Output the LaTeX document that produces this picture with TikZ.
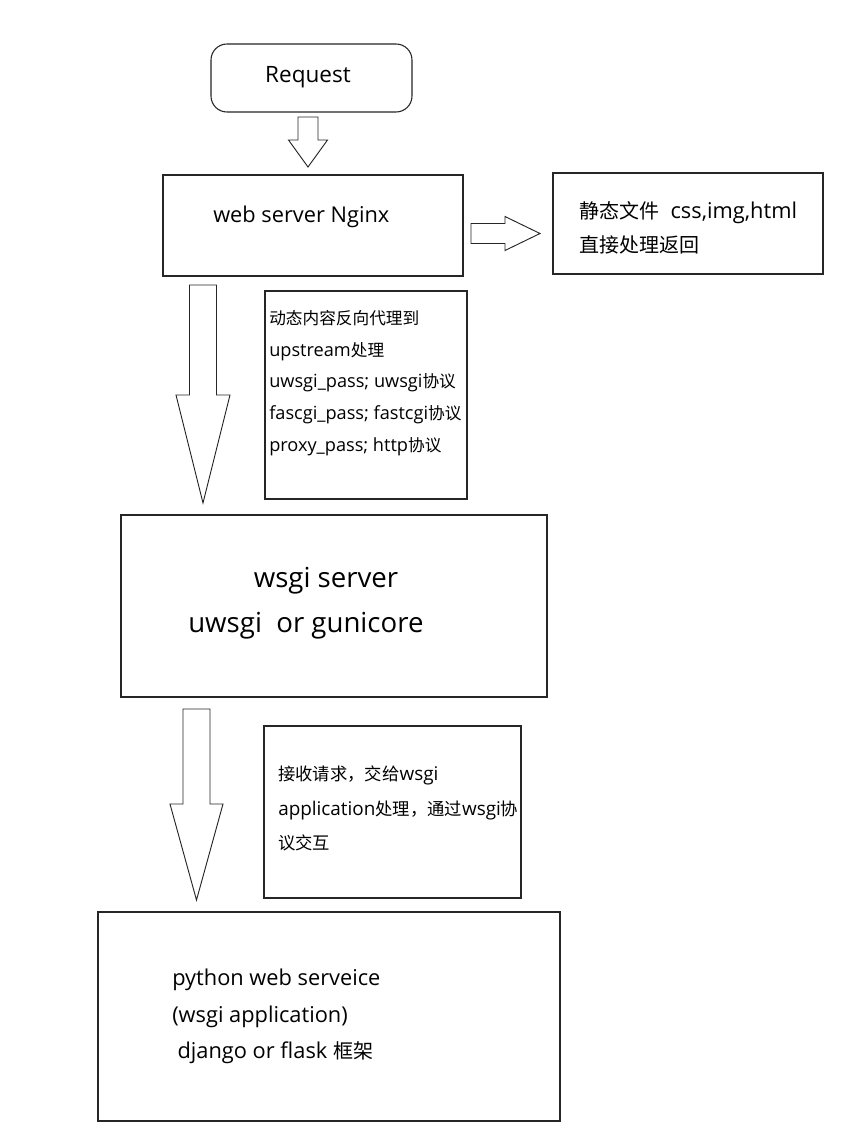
\documentclass[tikz,border=0pt]{standalone}
\usepackage{fontspec}
\setmainfont[Scale=1.09]{Open Sans}
\newfontfamily\cjk{Noto Sans CJK SC}
\usetikzlibrary{calc}
\def\blockdown(#1)(#2)(#3:#4:#5){\draw[blockarrow] ($(#1)+(-#3,0)$) -- ($(#2)+(-#3,-#5)$) -- ($(#2)+(-#4,-#5)$) -- (#2) -- ($(#2)+(#4,-#5)$) -- ($(#2)+(#3,-#5)$) -- ($(#1)+(#3,0)$) -- cycle;}
\def\blockright(#1)(#2)(#3:#4:#5){\draw[blockarrow] ($(#1)+(0,-#3)$) -- ($(#2)+(-#5,-#3)$) -- ($(#2)+(-#5,-#4)$) -- (#2) -- ($(#2)+(-#5,#4)$) -- ($(#2)+(-#5,#3)$) -- ($(#1)+(0,#3)$) -- cycle;}

\begin{document}
\begin{tikzpicture}[x=0.75pt, y=-0.75pt,
	box/.style 2 args={draw=black!85, line width=0.8pt, minimum width=#1*0.75pt, minimum height=#2*0.75pt, inner sep=0pt},
	blockarrow/.style={draw=black!85, line width=0.7pt, fill=white, line join=miter},
	txt/.style={anchor=west, inner sep=0pt, align=left, text=black}]
			%%%%% START %%%%%
			
			\path[use as bounding box, fill=white] (0, 0) rectangle (867, 1136);
			
			\node[box={201}{68}, rounded corners=12pt] (req) at (311.5, 78) {};
			\node[font=\fontsize{15.5}{18}\selectfont, inner sep=0pt] (reqtext) at (308, 77) {Request};
			
			\node[box={300}{101}] (nginx) at (313, 225.5) {};
			\node[txt, font=\fontsize{15}{18}\selectfont] (nginxtext) at (213, 217) {web server Nginx};
			
			\node[box={270}{101}] (static) at (688, 223.5) {};
			\node[txt, font=\fontsize{15}{25.5}\selectfont] (statictext) at (579, 228) {{\cjk 静态文件}\ \ css,img,html\\{\cjk 直接处理返回}};
			
			\node[box={202}{208}] (proxy) at (366, 395) {};
			\node[txt, font=\fontsize{12.5}{23.8}\selectfont] (proxytext) at (269, 383) {{\cjk 动态内容反向代理到}\\upstream{\cjk 处理}\\uwsgi\_pass; uwsgi{\cjk 协议}\\fascgi\_pass; fastcgi{\cjk 协议}\\proxy\_pass; http{\cjk 协议}};
			
			\node[box={426}{182}] (wsgi) at (334, 606) {};
			\node[font=\fontsize{19}{22}\selectfont, inner sep=0pt] (wsgitext) at (326, 581) {wsgi server};
			\node[txt, font=\fontsize{19}{22}\selectfont] (wsginame) at (188, 626) {uwsgi\ \ or gunicore};
			
			\node[box={257}{172}] (recv) at (392.5, 812) {};
			\node[txt, font=\fontsize{13}{25.9}\selectfont] (recvtext) at (278, 808.5) {{\cjk 接收请求，交给}wsgi\\application{\cjk 处理，通过}wsgi{\cjk 协}\\{\cjk 议交互}};
			
			\node[box={462}{209}] (app) at (329, 1016.5) {};
			\node[txt, font=\fontsize{15}{27.4}\selectfont] (apptext) at (172, 1016.5) {python web serveice\\(wsgi application)\\\hspace{4pt}django or flask {\cjk 框架}};
			
			% block arrows
			\coordinate (reqout) at (308, 117);
			\coordinate (nginxin) at (308, 167);
			\blockdown(reqout)(nginxin)(10:19.5:27)
			
			\coordinate (nginxout) at (471, 233.5);
			\coordinate (staticin) at (540, 233.5);
			\blockright(nginxout)(staticin)(10:17:35)
			
			\coordinate (nginxdown) at (203, 285);
			\coordinate (wsgiin) at (203, 503);
			\blockdown(nginxdown)(wsgiin)(13.5:27:108)
			
			\coordinate (wsgiout) at (196.5, 709);
			\coordinate (appin) at (196.5, 900);
			\blockdown(wsgiout)(appin)(13.5:26.5:96)
			
			%%%%% END %%%%%
\end{tikzpicture}
\end{document}
